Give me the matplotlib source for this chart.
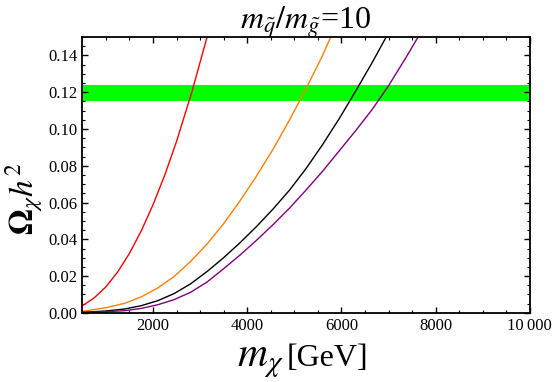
import numpy as np
from matplotlib import pyplot as plt
from matplotlib.ticker import MultipleLocator, FuncFormatter

# relic band
band_lo = 0.1153
band_hi = 0.1238

# curves (m_chi in GeV, Omega h^2)
red_x = [500, 750, 1000, 1250, 1500, 1750, 2000, 2250, 2500, 2830, 3150, 3300]
red_y = [0.0038, 0.0081, 0.0141, 0.0222, 0.0323, 0.0445, 0.0587, 0.0749, 0.0932, 0.1205, 0.1502, 0.1660]

orange_x = [500, 1000, 1400, 1750, 2100, 2450, 2800, 3150, 3500, 3850, 4200, 4550, 4900, 5250, 5600, 5780, 5900]
orange_y = [0.0008, 0.0028, 0.0052, 0.0087, 0.0135, 0.0198, 0.0280, 0.0375, 0.0485, 0.0610, 0.0745, 0.0890, 0.1050,
            0.1220, 0.1400, 0.1505, 0.1580]

black_x = [500, 1000, 1400, 1750, 2100, 2450, 2800, 3150, 3500, 3850, 4200, 4550, 4900, 5250, 5600, 5950, 6300,
           6650, 6950, 7050]
black_y = [0.0003, 0.0010, 0.0021, 0.0039, 0.0066, 0.0105, 0.0158, 0.0225, 0.0300, 0.0382, 0.0470, 0.0565, 0.0668,
           0.0785, 0.0915, 0.1055, 0.1205, 0.1360, 0.1500, 0.1550]

purple_x = [500, 1000, 1400, 1750, 2100, 2450, 2800, 3150, 3500, 3850, 4200, 4550, 4900, 5250, 5600, 5950, 6300,
            6650, 7000, 7350, 7650, 7750]
purple_y = [0.0002, 0.0006, 0.0012, 0.0024, 0.0044, 0.0072, 0.0112, 0.0168, 0.0240, 0.0315, 0.0395, 0.0480, 0.0570,
            0.0668, 0.0770, 0.0880, 0.0990, 0.1105, 0.1235, 0.1380, 0.1510, 0.1550]

xticks = [2000, 4000, 6000, 8000, 10000]


def fmt(v, pos):
    if v >= 10000:
        return "10\u2009000"
    return "%d" % v


def main():
    plt.rcParams['font.family'] = ['Liberation Serif', 'DejaVu Serif']
    plt.rcParams['mathtext.fontset'] = 'stix'

    fig = plt.figure(figsize=(5.56, 3.82), dpi=100)
    ax = fig.add_axes([0.148, 0.181, 0.805, 0.722])

    ax.axhspan(band_lo, band_hi, color='#00ff00', lw=0)
    ax.plot(red_x, red_y, color='#ff0000', lw=1.0)
    ax.plot(orange_x, orange_y, color='#ff8000', lw=1.0)
    ax.plot(black_x, black_y, color='black', lw=1.0)
    ax.plot(purple_x, purple_y, color='#800080', lw=1.0)

    ax.set_xlim(500, 10000)
    ax.set_ylim(0, 0.15)
    ax.set_xticks(xticks)
    ax.xaxis.set_major_formatter(FuncFormatter(fmt))
    ax.xaxis.set_minor_locator(MultipleLocator(500))
    ax.yaxis.set_major_locator(MultipleLocator(0.02))
    ax.yaxis.set_minor_locator(MultipleLocator(0.005))
    ax.yaxis.set_major_formatter(FuncFormatter(lambda v, p: "%.2f" % v))
    ax.tick_params(which='both', direction='in', top=True, right=True, labelsize=12)
    ax.tick_params(which='major', length=4, width=1)
    ax.tick_params(which='minor', length=2, width=0.8)
    for s in ax.spines.values():
        s.set_linewidth(1.3)

    fig.text(0.55, 0.925, r"$m_{\tilde{q}}/m_{\tilde{g}}$=10", fontsize=23, ha='center', va='baseline')
    fig.text(0.006, 0.48, r"$\mathbf{\Omega}_\chi h^2$", fontsize=24, rotation=90, ha='left', va='center')

    # x label: big m_chi, smaller [GeV]
    fig.text(0.4257, 0.042, r"$m_\chi$", fontsize=30, va='baseline', ha='left')
    fig.text(0.516, 0.042, "[GeV]", fontsize=23, va='baseline', ha='left')

    plt.savefig("out.png", dpi=100)


if __name__ == "__main__":
    main()
